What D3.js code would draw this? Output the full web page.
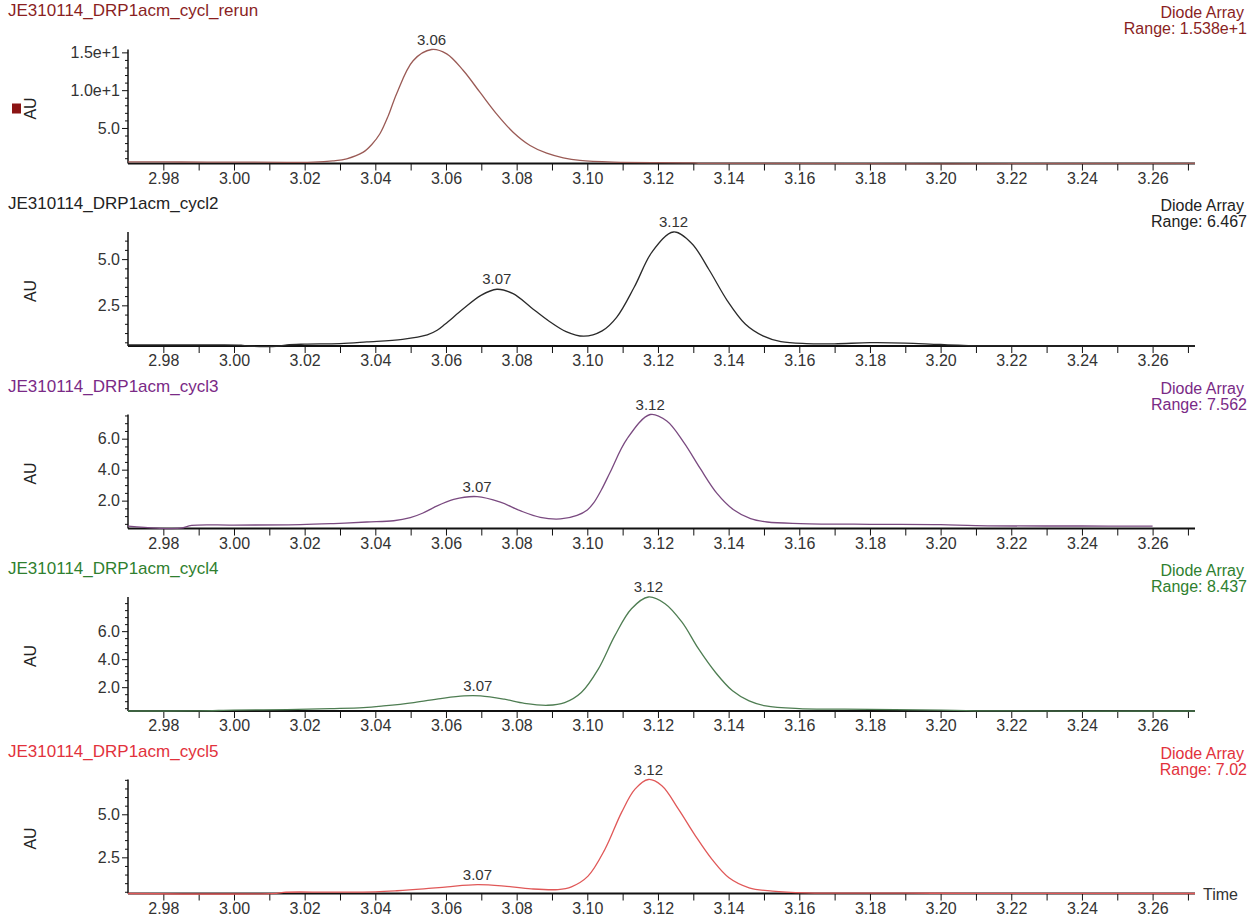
<!DOCTYPE html>
<html><head><meta charset="utf-8">
<script src="https://cdn.jsdelivr.net/npm/d3@7"></script>
<style>
body{margin:0;background:#fff}
svg{display:block}
text{font-family:"Liberation Sans",Arial,Helvetica,sans-serif}
</style>
</head><body>
<svg id="chart" width="1247" height="919"></svg>
<script>
// ---------------- DATA ----------------
const titles = ["JE310114_DRP1acm_cycl_rerun","JE310114_DRP1acm_cycl2","JE310114_DRP1acm_cycl3","JE310114_DRP1acm_cycl4","JE310114_DRP1acm_cycl5"];
const detectorLabel = "Diode Array";
const rangeLabels = ["Range: 1.538e+1","Range: 6.467","Range: 7.562","Range: 8.437","Range: 7.02"];
const xDomain = [2.970, 3.272];
const xTickValues = [2.98,2.99,3.00,3.01,3.02,3.03,3.04,3.05,3.06,3.07,3.08,3.09,3.10,3.11,3.12,3.13,3.14,3.15,3.16,3.17,3.18,3.19,3.20,3.21,3.22,3.23,3.24,3.25,3.26,3.27];
const xTickLabels = ["2.98","3.00","3.02","3.04","3.06","3.08","3.10","3.12","3.14","3.16","3.18","3.20","3.22","3.24","3.26"];
const yDomains = [[0.3,15.38],[0.3,6.467],[0.2,7.562],[0.3,8.437],[0.4,7.02]];
const yMajorTicks = [[5,10,15],[2.5,5],[2,4,6],[2,4,6],[2.5,5]];
const yMajorLabels = [["5.0","1.0e+1","1.5e+1"],["2.5","5.0"],["2.0","4.0","6.0"],["2.0","4.0","6.0"],["2.5","5.0"]];
const yMinorStep = [1,0.5,0.5,0.5,0.5];

const seriesRerun = [[2.970,0.52],[2.985,0.50],[3.000,0.48],[3.015,0.46],[3.0224,0.48],[3.0280,0.65],[3.0319,0.92],[3.0366,1.80],[3.0390,2.81],[3.0413,4.23],[3.0437,6.65],[3.0460,9.50],[3.0507,13.90],[3.0559,15.38],[3.0602,14.80],[3.0649,12.60],[3.0696,9.73],[3.0743,6.87],[3.0790,4.44],[3.0838,2.68],[3.0885,1.66],[3.0932,1.05],[3.0979,0.70],[3.1073,0.47],[3.1300,0.38],[3.1320,0.32],[3.2720,0.31]];
const seriesCycl2 = [[2.970,0.36],[2.990,0.36],[3.002,0.35],[3.004,0.30],[3.013,0.30],[3.015,0.36],[3.020,0.40],[3.030,0.43],[3.0376,0.52],[3.0477,0.66],[3.0547,0.90],[3.0575,1.15],[3.0598,1.49],[3.0649,2.31],[3.0699,3.04],[3.0744,3.37],[3.0790,3.13],[3.0840,2.40],[3.0890,1.67],[3.0940,1.08],[3.0990,0.83],[3.1042,1.12],[3.1083,1.85],[3.1133,3.49],[3.1184,5.41],[3.1244,6.467],[3.1295,5.86],[3.1345,4.41],[3.1396,2.76],[3.1447,1.49],[3.1497,0.85],[3.1548,0.54],[3.1620,0.43],[3.1700,0.42],[3.1800,0.48],[3.1900,0.46],[3.2000,0.38],[3.2130,0.31],[3.2720,0.30]];
const seriesCycl3 = [[2.970,0.35],[2.978,0.22],[2.985,0.22],[2.988,0.40],[3.000,0.42],[3.0188,0.45],[3.0282,0.52],[3.0376,0.62],[3.0452,0.70],[3.0499,0.90],[3.0535,1.20],[3.0565,1.55],[3.0622,2.08],[3.0688,2.26],[3.0754,1.90],[3.0810,1.35],[3.0867,0.92],[3.0924,0.82],[3.0971,1.05],[3.1000,1.40],[3.1018,1.85],[3.1040,2.70],[3.1065,3.85],[3.1112,5.97],[3.1178,7.562],[3.1225,7.14],[3.1273,5.76],[3.1320,4.06],[3.1367,2.47],[3.1414,1.41],[3.1462,0.84],[3.1509,0.62],[3.1603,0.52],[3.1800,0.47],[3.2000,0.45],[3.2100,0.38],[3.2400,0.36],[3.2600,0.35]];
const seriesCycl4 = [[2.970,0.30],[2.990,0.31],[3.000,0.36],[3.015,0.40],[3.0272,0.47],[3.0366,0.54],[3.0423,0.66],[3.0509,0.90],[3.0585,1.19],[3.0651,1.38],[3.0698,1.38],[3.0765,1.14],[3.0822,0.85],[3.0888,0.71],[3.0936,0.90],[3.0983,1.62],[3.1031,3.29],[3.1078,5.68],[3.1125,7.60],[3.1173,8.437],[3.1220,7.96],[3.1268,6.64],[3.1315,4.73],[3.1363,3.05],[3.1411,1.74],[3.1458,1.02],[3.1505,0.66],[3.1600,0.47],[3.1800,0.42],[3.2000,0.36],[3.2100,0.31],[3.2720,0.30]];
const seriesCycl5 = [[2.970,0.40],[3.012,0.41],[3.014,0.47],[3.0272,0.48],[3.0400,0.50],[3.0461,0.56],[3.0537,0.67],[3.0604,0.79],[3.0689,0.91],[3.0765,0.83],[3.0841,0.67],[3.0917,0.63],[3.0955,0.79],[3.1002,1.41],[3.1050,2.97],[3.1097,5.11],[3.1135,6.46],[3.1173,7.02],[3.1211,6.66],[3.1258,5.30],[3.1306,3.75],[3.1353,2.38],[3.1401,1.31],[3.1458,0.73],[3.1524,0.54],[3.1619,0.44],[3.1900,0.42],[3.2100,0.41],[3.2720,0.40]];
const allSeries = [seriesRerun, seriesCycl2, seriesCycl3, seriesCycl4, seriesCycl5];

const peakLabels = [
  [[3.0559,15.38,"3.06"]],
  [[3.0744,3.37,"3.07"],[3.1244,6.467,"3.12"]],
  [[3.0688,2.26,"3.07"],[3.1178,7.562,"3.12"]],
  [[3.0690,1.38,"3.07"],[3.1173,8.437,"3.12"]],
  [[3.0689,0.91,"3.07"],[3.1173,7.02,"3.12"]]
];
const xAxisTitle = "Time";
const yAxisTitle = "AU";

// ---------------- STYLE / LAYOUT ----------------
const titleColors = ["#8a1f1f","#222222","#7a2a86","#2f7f2f","#e2323c"];
const lineColors  = ["#9a5a55","#2a2a2a","#7a4a80","#4e7d52","#e05858"];
const fontSize = 16;
const left = 128, right = 1195;
const baselines = [163.5, 346, 528.5, 711, 893.5];
const plotH = 114;
const titleY = [16, 209, 391.5, 574, 756.5];

const svg = d3.select("#chart");
const x = d3.scaleLinear().domain(xDomain).range([left, right]);

baselines.forEach((b, i) => {
  const g = svg.append("g");
  const y = d3.scaleLinear().domain(yDomains[i]).range([b, b - plotH]);
  const col = titleColors[i];

  g.append("text").attr("x", 8).attr("y", titleY[i]).attr("fill", col)
    .attr("font-size", 17).text(titles[i]);
  g.append("text").attr("x", 1244).attr("y", titleY[i] + 2).attr("text-anchor", "end")
    .attr("fill", col).attr("font-size", fontSize).text(detectorLabel);
  g.append("text").attr("x", 1247).attr("y", titleY[i] + 18).attr("text-anchor", "end")
    .attr("fill", col).attr("font-size", fontSize).text(rangeLabels[i]);

  g.append("text").attr("transform", `translate(36,${b - 55}) rotate(-90)`)
    .attr("text-anchor", "middle").attr("fill", "#222").attr("font-size", fontSize).text(yAxisTitle);

  const yMaj = d3.axisLeft(y).tickValues(yMajorTicks[i])
    .tickFormat((d, k) => yMajorLabels[i][k]).tickSize(6).tickPadding(2).tickSizeOuter(0);
  const ya = g.append("g").attr("transform", `translate(${left},0)`).call(yMaj);
  ya.select(".domain").remove();
  ya.selectAll("text").attr("font-size", fontSize).attr("fill", "#333").attr("font-family", null);
  ya.selectAll("line").attr("stroke", "#111");
  const step = yMinorStep[i];
  const minor = d3.range(step, yDomains[i][1] + 1e-9, step)
    .map(v => +v.toFixed(3)).filter(v => !yMajorTicks[i].some(m => Math.abs(m - v) < 1e-6));
  const ym = d3.axisLeft(y).tickValues(minor).tickFormat("").tickSize(3).tickSizeOuter(0);
  const yma = g.append("g").attr("transform", `translate(${left},0)`).call(ym);
  yma.select(".domain").remove();
  yma.selectAll("line").attr("stroke", "#111");
  g.append("line").attr("x1", left).attr("x2", left).attr("y1", b - plotH).attr("y2", b)
    .attr("stroke", "#111").attr("stroke-width", 1.5);

  const xa = d3.axisBottom(x).tickValues(xTickValues)
    .tickFormat(d => { const s = d.toFixed(2); return xTickLabels.includes(s) ? s : ""; })
    .tickSize(7).tickPadding(2).tickSizeOuter(0);
  const xg = g.append("g").attr("transform", `translate(0,${b})`).call(xa);
  xg.select(".domain").remove();
  xg.selectAll("text").attr("font-size", fontSize).attr("fill", "#333").attr("font-family", null);
  xg.selectAll("line").attr("stroke", "#111");
  g.append("line").attr("x1", left).attr("x2", right).attr("y1", b).attr("y2", b)
    .attr("stroke", "#111").attr("stroke-width", 2);

  const line = d3.line().x(d => x(d[0])).y(d => y(d[1])).curve(d3.curveCatmullRom.alpha(0.5));
  g.append("path").datum(allSeries[i]).attr("d", line)
    .attr("fill", "none").attr("stroke", lineColors[i]).attr("stroke-width", 1.3);

  peakLabels[i].forEach(p => {
    g.append("text").attr("x", x(p[0])).attr("y", y(p[1]) - 5).attr("text-anchor", "middle")
      .attr("fill", "#333").attr("font-size", fontSize - 1).text(p[2]);
  });

  if (i === baselines.length - 1) {
    g.append("text").attr("x", right + 8).attr("y", b + 6).attr("fill", "#333")
      .attr("font-size", fontSize).text(xAxisTitle);
  }
  if (i === 0) {
    g.append("rect").attr("x", 12).attr("y", b - 60).attr("width", 9).attr("height", 10)
      .attr("fill", "#8b1414");
  }
});
</script>
</body></html>
